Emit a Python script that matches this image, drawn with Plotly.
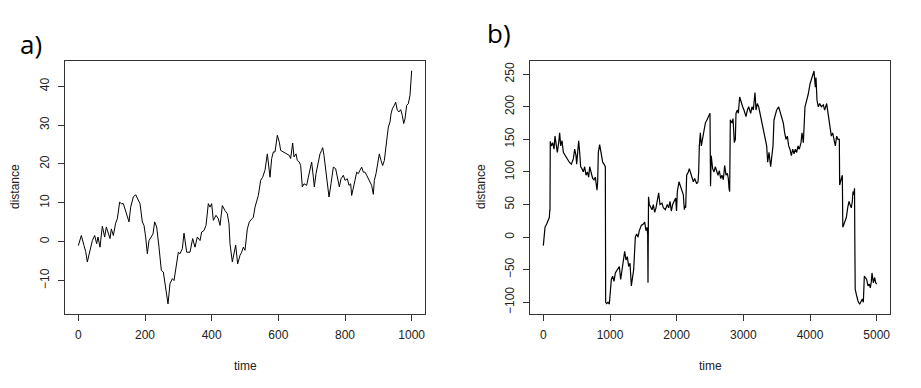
import plotly.graph_objects as go

# ---------- Panel a: time / distance ----------
time_a = [0, 2, 9, 17, 22, 27, 35, 42, 49, 55, 59, 65, 72, 79, 84, 90, 95, 99, 105, 112,
          117, 124, 129, 135, 142, 147, 152, 157, 165, 172, 179, 185, 192, 197, 202, 207,
          212, 219, 224, 229, 235, 242, 249, 255, 262, 269, 275, 282, 287, 294, 300, 305,
          312, 317, 325, 335, 343, 350, 357, 365, 370, 377, 383, 390, 395, 400, 405, 413,
          420, 425, 432, 440, 447, 452, 455, 462, 467, 472, 478, 485, 490, 495, 500, 507,
          513, 520, 525, 530, 535, 540, 547, 553, 560, 567, 575, 580, 585, 590, 597, 603,
          607, 615, 625, 633, 637, 643, 647, 653, 657, 663, 667, 672, 677, 685, 690, 695,
          700, 705, 708, 713, 720, 725, 730, 733, 737, 742, 747, 752, 758, 765, 772, 777,
          783, 788, 795, 800, 807, 812, 817, 820, 825, 830, 835, 840, 845, 850, 855, 860,
          865, 870, 875, 880, 885, 888, 893, 898, 903, 908, 913, 918, 923, 927, 930, 935,
          938, 942, 948, 952, 957, 962, 967, 972, 976, 980, 985, 990, 995, 998, 1000]
dist_a = [-1, -0.5, 1.6, -1, -2.5, -5.2, -2.2, 0.3, 1.6, -0.5, 1.2, -1.4, 4, 1.2, 3.8, 2, 0.8, 3.3, 1.6, 4.8,
          5.9, 10.2, 9.8, 9.8, 8, 6.8, 5.1, 8.9, 11.5, 12.1, 11, 9.8, 5.1, 4.2, 1.2, -3.1,
          0.3, 1.2, 2, 5.1, 3.8, -1.4, -7.4, -7.8, -11.7, -16, -10.8, -9.5, -10, -6.5, -2.7, -3.1,
          -1.8, 2.2, -2.7, -2.7, 0.8, -1.4, 1.2, 0.3, 2.5, 2.9, 4.2, 9.8, 8.9, 9.8, 5.5, 6.8,
          5.9, 4.2, 9.3, 8, 7.2, 4.6, -0.5, -5.2, -2.7, -0.9, -5.7, -3.5, -2.7, -1.4, -2.2, 3.3,
          5.1, 5.9, 6.3, 8.9, 10.6, 11.9, 15.8, 16.6, 18.4, 22.6, 16.6, 21.4, 23.1, 23.1, 27.4, 25.6,
          23.5, 23.1, 22.6, 22.2, 21.4, 25.4, 21.8, 22.6, 20.9, 20.5, 19.6, 14.1, 14.9, 14.5, 16.6, 18.4,
          20.5, 16.6, 14.1, 17.5, 20.9, 22.6, 23.5, 24.2, 22.2, 18.4, 14.5, 11.5, 14.9, 19.2, 18.8, 16.6,
          14.1, 16.2, 17.1, 15.8, 16.2, 14.5, 14.9, 11.9, 13.6, 15.8, 17.9, 17.5, 18.4, 19.2, 17.9, 17.9,
          17.1, 16.2, 15.4, 14.5, 12.2, 15.8, 17.5, 20.5, 22.6, 20.9, 19.6, 20.9, 23.9, 27.4, 29.5, 30.8,
          32.9, 34.2, 35.1, 35.9, 33.8, 33.4, 34, 32.5, 30.4, 31.6, 35.1, 35.5, 37.7, 41, 44]

# ---------- Panel b: time / distance ----------
time_b = [0, 15, 25, 50, 75, 90, 97, 100, 104, 120, 140, 160, 175, 190, 210, 230, 245, 260, 280, 300,
          330, 360, 390, 420, 450, 470, 490, 500, 515, 530, 545, 560, 580, 600, 620, 640, 660, 680, 695, 720,
          740, 760, 780, 795, 805, 815, 825, 845, 870, 890, 910, 930, 935, 950, 970, 990, 1000, 1020, 1040, 1060,
          1080, 1110, 1140, 1160, 1180, 1200, 1220, 1240, 1260, 1280, 1300, 1320, 1335, 1355, 1380, 1400, 1420, 1440, 1470, 1500,
          1520, 1540, 1555, 1565, 1570, 1578, 1590, 1610, 1630, 1650, 1670, 1690, 1710, 1730, 1750, 1780, 1800, 1830, 1860, 1880,
          1900, 1920, 1940, 1960, 1985, 1998, 2010, 2035, 2060, 2085, 2100, 2115, 2125, 2135, 2150, 2175, 2190, 2220, 2250, 2270,
          2300, 2320, 2330, 2340, 2355, 2370, 2385, 2405, 2430, 2455, 2480, 2500, 2508, 2518, 2540, 2560, 2580, 2600, 2620, 2640,
          2660, 2680, 2700, 2720, 2740, 2760, 2775, 2785, 2795, 2805, 2830, 2845, 2865, 2880, 2890, 2910, 2925, 2945, 2970, 2990,
          3010, 3040, 3060, 3080, 3110, 3130, 3150, 3175, 3190, 3210, 3230, 3260, 3280, 3300, 3330, 3350, 3365, 3385, 3410, 3430,
          3445, 3460, 3480, 3500, 3530, 3560, 3580, 3600, 3620, 3640, 3660, 3680, 3700, 3720, 3740, 3760, 3780, 3800, 3820, 3840,
          3865, 3880, 3900, 3925, 3950, 3975, 4000, 4030, 4060, 4080, 4090, 4105, 4125, 4145, 4170, 4200, 4220, 4250, 4265, 4285,
          4300, 4320, 4340, 4360, 4380, 4400, 4420, 4440, 4445, 4470, 4485, 4492, 4520, 4545, 4565, 4585, 4600, 4620, 4635, 4645,
          4655, 4668, 4672, 4678, 4700, 4720, 4745, 4765, 4785, 4800, 4815, 4850, 4870, 4890, 4905, 4920, 4930, 4950, 4970, 4985,
          5000]
dist_b = [-13, 10, 15, 20, 25, 30, 42, 40, 147, 140, 145, 135, 155, 140, 130, 145, 160, 140, 148, 130,
          125, 118, 115, 112, 120, 135, 125, 112, 135, 148, 130, 108, 105, 100, 108, 95, 100, 92, 108, 95,
          90, 88, 92, 80, 72, 85, 130, 142, 130, 115, 112, 108, -100, -102, -100, -103, -90, -65, -60, -68,
          -55, -50, -45, -65, -50, -40, -22, -35, -30, -45, -40, -75, -60, -50, 0, 5, 0, 10, 18, 20,
          23, 10, 15, 5, -70, 62, 50, 45, 42, 50, 38, 45, 55, 68, 50, 52, 45, 42, 50, 45,
          55, 40, 50, 55, 60, 40, 70, 85, 78, 72, 65, 42, 48, 45, 95, 100, 105, 95, 85, 90,
          82, 85, 100, 140, 160, 140, 150, 165, 175, 180, 185, 190, 78, 125, 105, 100, 108, 100, 95, 102,
          90, 95, 88, 110, 95, 98, 90, 75, 70, 180, 175, 182, 145, 150, 190, 195, 190, 215, 205, 200,
          195, 185, 195, 200, 190, 200, 195, 222, 195, 205, 200, 185, 180, 170, 150, 140, 115, 130, 108, 125,
          140, 180, 190, 195, 200, 190, 185, 175, 160, 150, 155, 140, 135, 125, 135, 128, 135, 130, 140, 135,
          145, 160, 145, 200, 210, 220, 235, 245, 255, 230, 245, 210, 200, 205, 200, 203, 195, 205, 195, 175,
          165, 155, 160, 150, 140, 155, 150, 150, 80, 90, 95, 15, 25, 30, 45, 55, 50, 45, 55, 70,
          65, 75, 0, -80, -90, -98, -103, -100, -95, -100, -60, -65, -75, -72, -78, -68, -55, -70, -62, -70,
          -72]

ticks_a_x = [0, 200, 400, 600, 800, 1000]
ticks_a_y = [-10, 0, 10, 20, 30, 40]
ticks_b_x = [0, 1000, 2000, 3000, 4000, 5000]
ticks_b_y = [-100, -50, 0, 50, 100, 150, 200, 250]

W, H = 921, 388
FONT = "Liberation Sans, Arial, sans-serif"
TXT = "#222222"

def px_x(p):
    return p / W

def px_y(p):
    return 1 - p / H

fig = go.Figure()
fig.add_trace(go.Scatter(x=time_a, y=dist_a, mode="lines",
                         line=dict(color="black", width=1), xaxis="x", yaxis="y",
                         showlegend=False, hoverinfo="skip"))
fig.add_trace(go.Scatter(x=time_b, y=dist_b, mode="lines",
                         line=dict(color="black", width=1.2), xaxis="x2", yaxis="y2",
                         showlegend=False, hoverinfo="skip"))

axis_common = dict(showgrid=False, zeroline=False, showline=True, mirror=True,
                   linecolor="#333333", linewidth=1, ticks="outside", ticklen=6,
                   tickcolor="#333333", tickfont=dict(family=FONT, size=12, color=TXT))

fig.update_layout(
    width=W, height=H,
    margin=dict(l=0, r=0, t=0, b=0),
    paper_bgcolor="white", plot_bgcolor="white",
    xaxis=dict(domain=[px_x(65), px_x(425)], range=[-40, 1040], tickvals=ticks_a_x,
               anchor="y", ticklabelstandoff=4, **axis_common),
    yaxis=dict(domain=[px_y(314), px_y(61)], range=[-18.6, 46.5], tickvals=ticks_a_y,
               anchor="x", tickangle=-90, ticklabelstandoff=4, **axis_common),
    xaxis2=dict(domain=[px_x(530), px_x(890)], range=[-200, 5200], tickvals=ticks_b_x,
                anchor="y2", ticklabelstandoff=4, **axis_common),
    yaxis2=dict(domain=[px_y(314), px_y(61)], range=[-118, 270.3], tickvals=ticks_b_y,
                anchor="x2", tickangle=-90, ticklabelstandoff=4, **axis_common),
)

ann = []
for xc, text in [(245, "time"), (710, "time")]:
    ann.append(dict(x=px_x(xc), y=px_y(366), xref="paper", yref="paper", text=text,
                    showarrow=False, xanchor="center", yanchor="middle",
                    font=dict(family=FONT, size=12, color=TXT)))
for xc in [15, 481]:
    ann.append(dict(x=px_x(xc), y=px_y(187), xref="paper", yref="paper", text="distance",
                    showarrow=False, xanchor="center", yanchor="middle", textangle=-90,
                    font=dict(family=FONT, size=12, color=TXT)))
ann.append(dict(x=px_x(18), y=px_y(44), xref="paper", yref="paper", text="a)",
                showarrow=False, xanchor="left", yanchor="middle",
                font=dict(family="Open Sans, Noto Sans, sans-serif", size=26, color="black")))
ann.append(dict(x=px_x(485), y=px_y(33), xref="paper", yref="paper", text="b)",
                showarrow=False, xanchor="left", yanchor="middle",
                font=dict(family="Open Sans, Noto Sans, sans-serif", size=26, color="black")))
fig.update_layout(annotations=ann)

fig.write_html("out.html",
               config={"displayModeBar": False},
               post_script="document.body.style.margin='0';document.body.style.padding='0';")
